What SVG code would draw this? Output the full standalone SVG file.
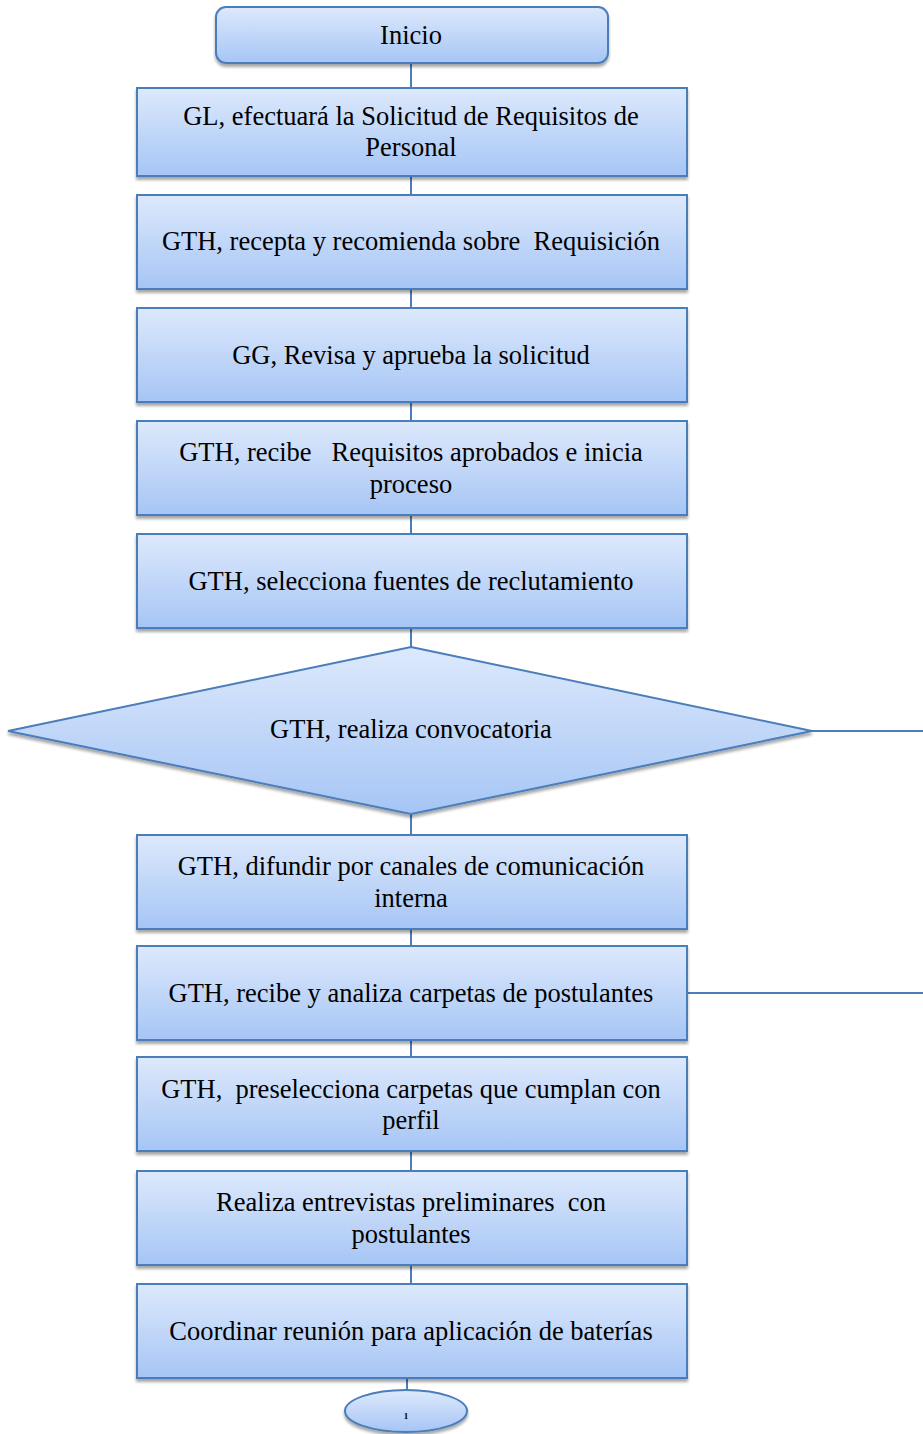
<svg xmlns="http://www.w3.org/2000/svg" width="923" height="1434" viewBox="0 0 923 1434">
  <defs>
    <linearGradient id="fill" x1="0" y1="0" x2="0" y2="1">
      <stop offset="0" stop-color="#dde9fc"/>
      <stop offset="1" stop-color="#a6c5f5"/>
    </linearGradient>
    <filter id="shadow" x="-5%" y="-10%" width="110%" height="130%">
      <feGaussianBlur in="SourceAlpha" stdDeviation="1.8"/>
      <feOffset dx="0" dy="3" result="b"/>
      <feComponentTransfer><feFuncA type="linear" slope="0.35"/></feComponentTransfer>
      <feMerge><feMergeNode/><feMergeNode in="SourceGraphic"/></feMerge>
    </filter>
    <style>
      .shape { fill: url(#fill); stroke: #4a7ebb; stroke-width: 2; filter: url(#shadow); }
      .line { stroke: #4a7ebb; stroke-width: 2; fill: none; }
      .t { font-family: "Liberation Serif", "Times New Roman", serif; font-size: 26.5px; fill: #000; text-anchor: middle; }
    </style>
  </defs>

  <!-- connectors between the steps -->
  <g id="connectors">
    <line class="line" x1="411" y1="63" x2="411" y2="88"/>
    <line class="line" x1="411" y1="176" x2="411" y2="195"/>
    <line class="line" x1="411" y1="289" x2="411" y2="308"/>
    <line class="line" x1="411" y1="402" x2="411" y2="421"/>
    <line class="line" x1="411" y1="515" x2="411" y2="534"/>
    <line class="line" x1="411" y1="628" x2="411" y2="647"/>
    <line class="line" x1="812" y1="731" x2="923" y2="731"/>
    <line class="line" x1="411" y1="814" x2="411" y2="835"/>
    <line class="line" x1="411" y1="929" x2="411" y2="946"/>
    <line class="line" x1="687" y1="993" x2="923" y2="993"/>
    <line class="line" x1="411" y1="1040" x2="411" y2="1057"/>
    <line class="line" x1="411" y1="1151" x2="411" y2="1171"/>
    <line class="line" x1="411" y1="1265" x2="411" y2="1284"/>
    <line class="line" x1="407" y1="1378" x2="407" y2="1390"/>
  </g>

  <g id="inicio">
    <rect class="shape" x="216" y="7" width="392" height="56" rx="10"/>
    <text class="t" x="411" y="44">Inicio</text>
  </g>

  <g id="solicitud">
    <rect class="shape" x="137" y="88" width="550" height="88"/>
    <text class="t" x="411" y="125">GL, efectuará la Solicitud de Requisitos de</text>
    <text class="t" x="411" y="156">Personal</text>
  </g>

  <g id="recepta">
    <rect class="shape" x="137" y="195" width="550" height="94"/>
    <text class="t" x="411" y="250" xml:space="preserve">GTH, recepta y recomienda sobre  Requisición</text>
  </g>

  <g id="revisa">
    <rect class="shape" x="137" y="308" width="550" height="94"/>
    <text class="t" x="411" y="364">GG, Revisa y aprueba la solicitud</text>
  </g>

  <g id="recibe-requisitos">
    <rect class="shape" x="137" y="421" width="550" height="94"/>
    <text class="t" x="411" y="461" xml:space="preserve">GTH, recibe   Requisitos aprobados e inicia</text>
    <text class="t" x="411" y="493">proceso</text>
  </g>

  <g id="fuentes">
    <rect class="shape" x="137" y="534" width="550" height="94"/>
    <text class="t" x="411" y="590">GTH, selecciona fuentes de reclutamiento</text>
  </g>

  <g id="convocatoria">
    <polygon class="shape" points="411,647 812,731 411,814 8,731"/>
    <text class="t" x="411" y="738">GTH, realiza convocatoria</text>
  </g>

  <g id="difundir">
    <rect class="shape" x="137" y="835" width="550" height="94"/>
    <text class="t" x="411" y="875">GTH, difundir por canales de comunicación</text>
    <text class="t" x="411" y="907">interna</text>
  </g>

  <g id="analiza">
    <rect class="shape" x="137" y="946" width="550" height="94"/>
    <text class="t" x="411" y="1002">GTH, recibe y analiza carpetas de postulantes</text>
  </g>

  <g id="preselecciona">
    <rect class="shape" x="137" y="1057" width="550" height="94"/>
    <text class="t" x="411" y="1098" xml:space="preserve">GTH,  preselecciona carpetas que cumplan con</text>
    <text class="t" x="411" y="1129">perfil</text>
  </g>

  <g id="entrevistas">
    <rect class="shape" x="137" y="1171" width="550" height="94"/>
    <text class="t" x="411" y="1211" xml:space="preserve">Realiza entrevistas preliminares  con</text>
    <text class="t" x="411" y="1243">postulantes</text>
  </g>

  <g id="baterias">
    <rect class="shape" x="137" y="1284" width="550" height="94"/>
    <text class="t" x="411" y="1340">Coordinar reunión para aplicación de baterías</text>
  </g>

  <g id="conector-1">
    <ellipse class="shape" cx="406" cy="1411" rx="61" ry="21"/>
    <text x="406" y="1419" font-family="Liberation Serif, serif" font-size="9" font-weight="bold" text-anchor="middle">1</text>
  </g>
</svg>
